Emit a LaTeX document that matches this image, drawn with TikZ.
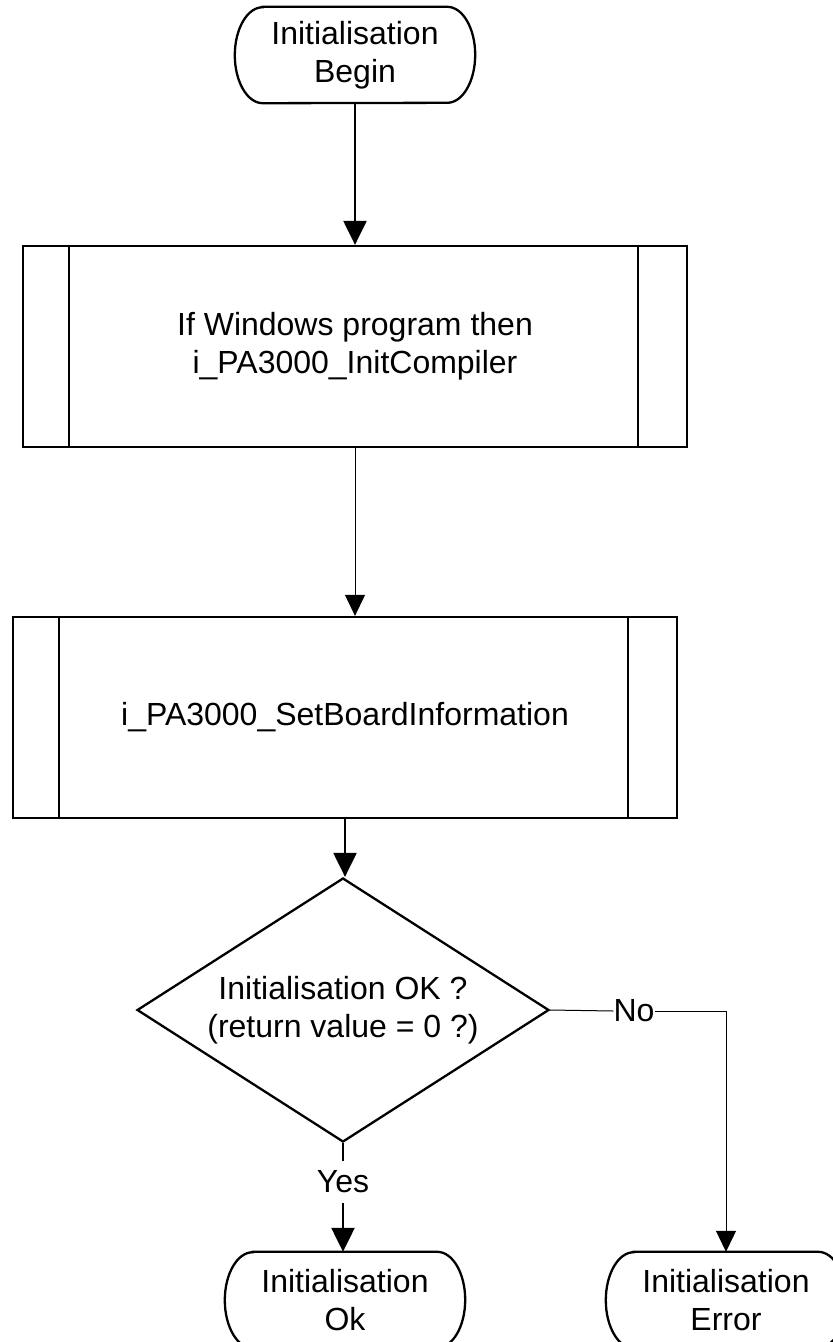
\documentclass[tikz,border=0pt]{standalone}
\usepackage{fontspec}
\setmainfont{Liberation Sans}
\usetikzlibrary{arrows.meta,shapes.geometric}

\tikzset{
  heavy/.style={line width=2.3pt},
  light/.style={line width=1pt},
  lbl/.style={font=\fontsize{32}{38}\selectfont, align=center, text=black},
  termnode/.style={lbl, minimum width=240pt, minimum height=96pt, inner sep=0pt},
  procbox/.style={lbl, heavy, draw, minimum width=664pt, minimum height=201pt, inner sep=0pt},
  decision/.style={lbl, heavy, draw, diamond, shape aspect=1.56,
                   minimum width=412pt, minimum height=264pt, inner sep=0pt},
  bigtip/.style={-{Triangle[width=23pt,length=24pt]}},
  smalltip/.style={-{Triangle[width=20pt,length=21pt]}},
}

% Terminator outline: straight top/bottom with elliptical ends
\newcommand\termoutline[1]{%
  \draw[heavy] ([xshift=28pt]#1.north west) -- ([xshift=-28pt]#1.north east)
    arc[start angle=90, end angle=-90, x radius=28pt, y radius=48pt]
    -- ([xshift=28pt]#1.south west)
    arc[start angle=270, end angle=90, x radius=28pt, y radius=48pt] -- cycle;}

% Side bars of a predefined-process box
\newcommand\procbars[1]{%
  \draw[heavy] ([xshift=47pt]#1.north west) -- ([xshift=47pt]#1.south west);
  \draw[heavy] ([xshift=-50pt]#1.north east) -- ([xshift=-50pt]#1.south east);}

\begin{document}
\begin{tikzpicture}[x=1pt, y=-1pt]
  \fill[white] (0,0) rectangle (833,1342);
  \clip (0,0) rectangle (833,1342);

  % nodes
  \node[termnode] (start) at (355,55) {Initialisation\\Begin};
  \termoutline{start}

  \node[procbox] (init) at (355,346.5) {If Windows program then\\i\_PA3000\_InitCompiler};
  \procbars{init}

  \node[procbox] (board) at (345,717.5) {i\_PA3000\_SetBoardInformation};
  \procbars{board}

  \node[decision] (check) at (343,1010) {Initialisation OK ?\\(return value = 0 ?)};

  \node[termnode] (ok) at (345,1300) {Initialisation\\Ok};
  \termoutline{ok}

  \node[termnode] (err) at (726,1300) {Initialisation\\Error};
  \termoutline{err}

  \node[lbl, inner sep=0pt, minimum height=41pt] (yes) at (343,1182) {Yes};
  \node[lbl, inner sep=0pt] (no) at (634,1011) {No};

  % connectors
  \draw[heavy, bigtip] (start.south) -- (init.north);
  \draw[light, smalltip] (init.south) -- (init.south |- board.north);
  \draw[heavy, bigtip] (board.south) -- (board.south |- check.north);
  \draw[heavy] (check.south) -- (yes.north);
  \draw[heavy, bigtip] (yes.south) -- (yes.south |- ok.north);
  \draw[light] (check.east) -- (no.west);
  \draw[light, smalltip] (no.east) -| (err.north);
\end{tikzpicture}
\end{document}
